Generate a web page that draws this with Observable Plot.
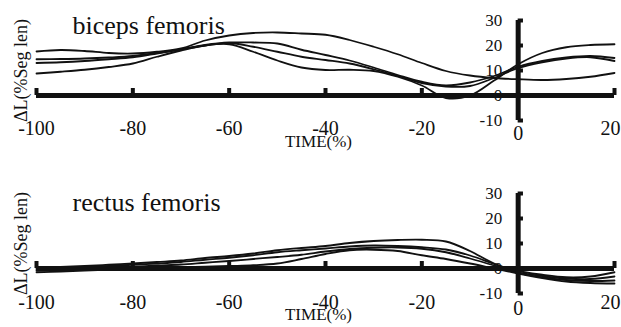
<!DOCTYPE html>
<html>
<head>
<meta charset="utf-8">
<script src="https://cdn.jsdelivr.net/npm/d3@7"></script>
<script src="https://cdn.jsdelivr.net/npm/@observablehq/plot@0.6"></script>
<style>
  html, body { margin: 0; padding: 0; background: #fff; }
  #chart { width: 621px; }
  #chart svg { display: block; font-family: "Liberation Serif", "Times New Roman", serif; }
</style>
</head>
<body>
<div id="chart"></div>
<script>
// ---- data ----
const timePct = [-100,-95,-90,-85,-80,-75,-70,-65,-60,-55,-50,-45,-40,-35,-30,-25,-20,-15,-10,-5,0,5,10,15,20];

const bicepsA = [17.6,18.2,17.8,17.0,16.8,17.5,18.8,22.0,24.0,25.0,25.2,24.8,24.3,22.2,19.5,16.5,13.0,9.8,8.0,7.0,6.5,6.2,6.6,7.5,9.0];
const bicepsB = [14.5,14.6,14.8,15.2,15.8,17.0,18.5,20.2,21.2,21.2,20.8,18.3,16.2,14.0,11.2,8.2,5.5,4.0,5.2,7.8,11.5,13.8,15.2,15.8,15.0];
const bicepsC = [13.0,13.3,13.8,14.5,15.3,16.8,18.4,20.0,21.0,19.5,17.5,15.5,14.2,12.8,10.5,7.8,5.0,3.6,3.8,7.0,11.0,13.3,14.8,15.3,13.8];
const bicepsD = [8.8,9.5,10.3,11.4,12.8,15.5,18.0,20.0,20.5,17.5,14.0,11.2,10.2,10.3,9.8,7.5,4.0,-1.0,0.0,6.0,12.5,17.0,19.3,20.2,20.5];

const rectusA = [0.3,0.6,1.0,1.5,2.0,2.6,3.2,4.2,5.0,6.0,7.3,8.2,9.0,10.2,11.0,11.4,11.5,10.8,7.0,2.0,-1.0,-2.5,-3.5,-3.2,-1.5];
const rectusB = [-0.2,0.0,0.5,1.0,1.5,2.0,2.6,3.5,4.3,5.3,6.5,7.3,8.0,8.8,9.2,9.0,8.5,7.6,5.2,1.8,-1.5,-3.0,-4.0,-4.2,-3.2];
const rectusC = [-0.8,-0.5,0.0,0.3,0.7,1.2,1.6,2.3,3.0,3.8,4.6,5.5,6.8,7.8,8.3,8.4,7.9,6.5,4.0,1.2,-1.8,-3.5,-4.6,-5.0,-4.8];
const rectusD = [-1.5,-1.2,-0.8,-0.5,-0.2,0.1,0.5,0.7,1.0,1.3,2.0,3.8,5.8,7.3,7.5,7.0,5.3,3.8,2.0,0.0,-2.0,-3.8,-5.2,-5.8,-6.0];

const xTickValues = [-100,-80,-60,-40,-20,0,20];
const yTickValues = [-10,0,10,20,30];
const panelTitles = ["biceps femoris", "rectus femoris"];
const xAxisLabel = "TIME(%)";
const yAxisLabel = "\u0394L(%Seg len)";

// ---- drawing ----
const FONT = "Liberation Serif";
const INK = "#111";

function toRows(seriesList) {
  const rows = [];
  seriesList.forEach((vals, k) => {
    vals.forEach((v, i) => rows.push({t: timePct[i], v, s: k}));
  });
  return rows;
}

function panel(title, seriesList, height, marginBottom, titleDy, zeroDy, labDy) {
  const xFirst = xTickValues[0], xLast = xTickValues[xTickValues.length - 1];
  const yFirst = yTickValues[0], yLast = yTickValues[yTickValues.length - 1];
  const common = {fontFamily: FONT, fill: INK};
  return Plot.plot({
    width: 621,
    height,
    marginLeft: 36,
    marginRight: 7,
    marginTop: 20,
    marginBottom,
    style: {fontFamily: FONT, background: "#fff", color: INK},
    x: {domain: [xFirst, xLast], axis: null},
    y: {domain: [yFirst, yLast], axis: null},
    marks: [
      // y tick labels
      Plot.text(yTickValues, {...common, x: () => 0, y: d => d, text: d => String(d), textAnchor: "end", dx: -16, fontSize: 17}),
      // x tick labels
      Plot.text(xTickValues.filter(d => d !== 0 && d !== xLast), {...common, x: d => d, y: () => 0, text: d => String(d), dy: labDy, fontSize: 20}),
      Plot.text(xTickValues.filter(d => d === xLast), {...common, x: d => d, y: () => 0, text: d => String(d), dy: labDy, dx: -4, fontSize: 20}),
      Plot.text(xTickValues.filter(d => d === 0), {...common, x: d => d, y: () => 0, text: d => String(d), dy: zeroDy, fontSize: 20}),
      // axis titles
      Plot.text([xAxisLabel], {...common, text: d => d, frameAnchor: "bottom", dx: -7, dy: 26, fontSize: 17}),
      Plot.text([yAxisLabel], {...common, text: d => d, frameAnchor: "left", textAnchor: "middle", dx: -15, rotate: -90, fontSize: 18}),
      // panel title
      Plot.text([title], {...common, text: d => d, frameAnchor: "top-left", textAnchor: "start", lineAnchor: "bottom", dx: 36, dy: titleDy, fontSize: 26}),
      // curves
      Plot.line(toRows(seriesList), {x: "t", y: "v", z: "s", stroke: INK, strokeWidth: 1.8, curve: "catmull-rom"}),
      // horizontal axis
      Plot.ruleY([0], {x1: xFirst, x2: xLast, strokeWidth: 5, stroke: INK}),
      Plot.ruleX(xTickValues.filter(d => d !== 0), {x: d => d, y1: () => 0, y2: () => 2.8, strokeWidth: 4, stroke: INK}),
      // vertical axis
      Plot.ruleX([0], {y1: yFirst, y2: yLast, strokeWidth: 5, stroke: INK}),
      Plot.ruleY(yTickValues, {y: d => d, x1: () => 0, x2: () => 1.1, strokeWidth: 4, stroke: INK})
    ]
  });
}

const chart = document.getElementById("chart");
chart.appendChild(panel(panelTitles[0], [bicepsA, bicepsB, bicepsC, bicepsD], 173, 53, 13, 38, 33));
chart.appendChild(panel(panelTitles[1], [rectusA, rectusB, rectusC, rectusD], 154, 34, 17, 40, 34));
</script>
</body>
</html>
